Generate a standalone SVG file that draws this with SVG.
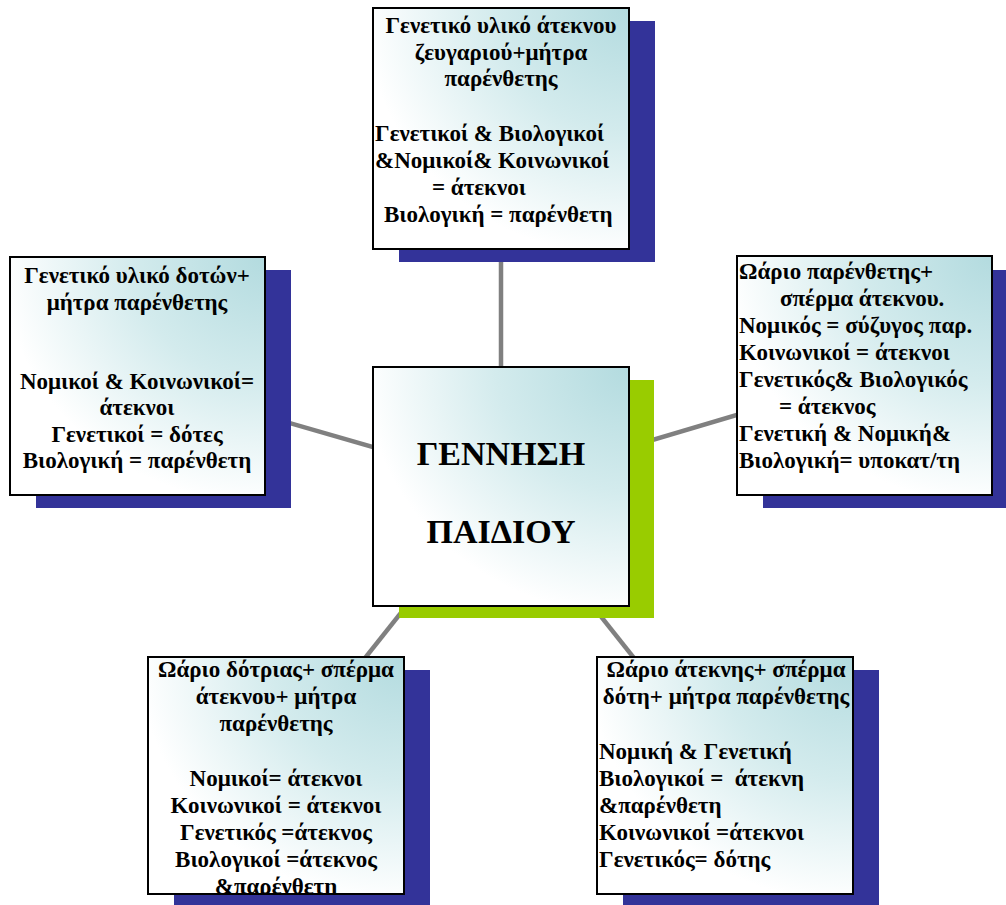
<svg xmlns="http://www.w3.org/2000/svg" width="1006" height="905" viewBox="0 0 1006 905">
<defs>
<radialGradient id="g" cx="1" cy="0" r="1.15">
<stop offset="0" stop-color="#B3DBDF"/>
<stop offset="0.45" stop-color="#D3EBED"/>
<stop offset="0.9" stop-color="#FFFFFF"/>
</radialGradient>
<clipPath id="clipBL"><rect x="148" y="657" width="256" height="237"/></clipPath>
</defs>
<style>
.sh{fill:#333399}
.shg{fill:#99CC00}
.box{fill:url(#g);stroke:#000;stroke-width:2}
text{font-family:"Liberation Serif","Times New Roman",serif;font-weight:bold;font-size:23px;fill:#000}
.c{text-anchor:middle}
.big{font-size:34px}
#connectors line{stroke:#808080;stroke-width:4.5}
</style>
<rect width="1006" height="905" fill="#fff"/>
<g id="connectors">
<line x1="501" y1="129" x2="501" y2="487"/>
<line x1="137" y1="379" x2="501" y2="484"/>
<line x1="501" y1="485" x2="865" y2="377"/>
<line x1="501" y1="487" x2="272" y2="775"/>
<line x1="498" y1="487" x2="727" y2="775"/>
</g>
<g id="node-top">
<rect class="sh" x="399" y="21" width="256" height="241"/>
<rect class="box" x="373" y="8" width="256" height="241"/>
<text class="c" x="501" y="33">Γενετικό υλικό άτεκνου</text>
<text class="c" x="501" y="60">ζευγαριού+μήτρα</text>
<text class="c" x="501" y="86">παρένθετης</text>
<text x="375" y="141">Γενετικοί &amp; Βιολογικοί</text>
<text x="375" y="168">&amp;Νομικοί&amp; Κοινωνικοί</text>
<text x="432" y="195">= άτεκνοι</text>
<text x="384" y="222">Βιολογική = παρένθετη</text>
</g>
<g id="node-left">
<rect class="sh" x="36" y="270" width="255" height="238"/>
<rect class="box" x="10" y="257" width="255" height="238"/>
<text class="c" x="137" y="283">Γενετικό υλικό δοτών+</text>
<text class="c" x="137" y="310">μήτρα παρένθετης</text>
<text class="c" x="137" y="389">Νομικοί &amp; Κοινωνικοί=</text>
<text class="c" x="137" y="415">άτεκνοι</text>
<text class="c" x="137" y="442">Γενετικοί = δότες</text>
<text class="c" x="137" y="468">Βιολογική = παρένθετη</text>
</g>
<g id="node-right">
<rect class="sh" x="763" y="270" width="255" height="238"/>
<rect class="box" x="737" y="256" width="255" height="239"/>
<text x="739" y="279">Ωάριο παρένθετης+</text>
<text x="780" y="306">σπέρμα άτεκνου.</text>
<text x="739" y="333">Νομικός = σύζυγος παρ.</text>
<text x="739" y="360">Κοινωνικοί = άτεκνοι</text>
<text x="739" y="387">Γενετικός&amp; Βιολογικός</text>
<text x="779" y="414">= άτεκνος</text>
<text x="739" y="441">Γενετική &amp; Νομική&amp;</text>
<text x="739" y="468">Βιολογική= υποκατ/τη</text>
</g>
<g id="node-center">
<rect class="shg" x="399" y="380" width="255" height="238"/>
<rect class="box" x="373" y="367" width="256" height="239"/>
<text class="c big" x="501" y="465">ΓΕΝΝΗΣΗ</text>
<text class="c big" x="501" y="543">ΠΑΙΔΙΟΥ</text>
</g>
<g id="node-bottom-left">
<rect class="sh" x="174" y="670" width="256" height="240"/>
<rect class="box" x="148" y="657" width="256" height="237"/>
<g clip-path="url(#clipBL)">
<text class="c" x="276" y="677">Ωάριο δότριας+ σπέρμα</text>
<text class="c" x="276" y="704">άτεκνου+ μήτρα</text>
<text class="c" x="276" y="731">παρένθετης</text>
<text class="c" x="276" y="786">Νομικοί= άτεκνοι</text>
<text class="c" x="276" y="813">Κοινωνικοί = άτεκνοι</text>
<text class="c" x="276" y="840">Γενετικός =άτεκνος</text>
<text class="c" x="276" y="867">Βιολογικοί =άτεκνος</text>
<text class="c" x="276" y="894">&amp;παρένθετη</text>
</g>
</g>
<g id="node-bottom-right">
<rect class="sh" x="623" y="670" width="256" height="240"/>
<rect class="box" x="597" y="657" width="256" height="237"/>
<text class="c" x="726" y="677">Ωάριο άτεκνης+ σπέρμα</text>
<text class="c" x="726" y="704">δότη+ μήτρα παρένθετης</text>
<text x="599" y="759">Νομική &amp; Γενετική</text>
<text x="599" y="786" xml:space="preserve">Βιολογικοί =  άτεκνη</text>
<text x="599" y="813">&amp;παρένθετη</text>
<text x="599" y="840">Κοινωνικοί =άτεκνοι</text>
<text x="599" y="867">Γενετικός= δότης</text>
</g>
</svg>
